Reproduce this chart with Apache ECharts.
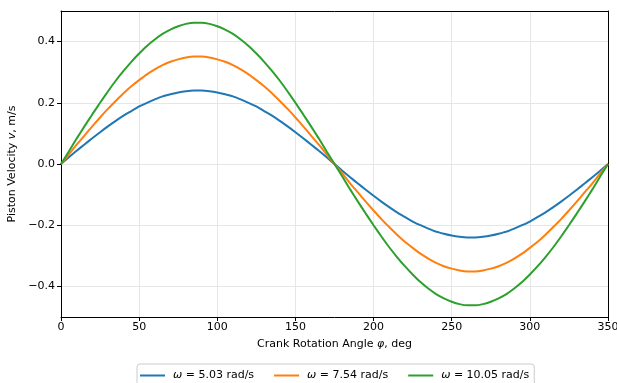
<!DOCTYPE html>
<html>
<head>
<meta charset="utf-8">
<script src="https://cdn.jsdelivr.net/npm/echarts@6/dist/echarts.min.js"></script>
<style>html,body{margin:0;padding:0;background:#fff}#c{width:617px;height:383px}</style>
</head>
<body>
<div id="c"></div>
<script>
const angles = [0,5,10,15,20,25,30,35,40,45,50,55,60,65,70,75,80,85,90,95,100,105,110,115,120,125,130,135,140,145,150,155,160,165,170,175,
  180,185,190,195,200,205,210,215,220,225,230,235,240,245,250,255,260,265,270,275,280,285,290,295,300,305,310,315,320,325,330,335,340,345,350];
const seriesNames = ['5.03', '7.54', '10.05'];
const v503 = [0,0.022,0.043,0.064,0.084,0.104,0.123,0.141,0.158,0.173,0.188,0.200,0.211,0.221,0.228,0.234,0.238,0.240,
  0.240,0.238,0.234,0.228,0.221,0.211,0.200,0.188,0.173,0.158,0.141,0.123,0.104,0.084,0.064,0.043,0.022,0,
  -0.022,-0.043,-0.064,-0.084,-0.104,-0.123,-0.141,-0.158,-0.173,-0.188,-0.200,-0.211,-0.221,-0.228,-0.234,-0.238,-0.240,
  -0.240,-0.238,-0.234,-0.228,-0.221,-0.211,-0.200,-0.188,-0.173,-0.158,-0.141,-0.123,-0.104,-0.084,-0.064,-0.043,-0.022,0];
const v754 = [0,0.031,0.063,0.093,0.123,0.152,0.180,0.206,0.231,0.254,0.274,0.293,0.309,0.323,0.334,0.342,0.348,0.351,
  0.351,0.348,0.342,0.334,0.323,0.309,0.293,0.274,0.254,0.231,0.206,0.180,0.152,0.123,0.093,0.063,0.031,0,
  -0.031,-0.063,-0.093,-0.123,-0.152,-0.180,-0.206,-0.231,-0.254,-0.274,-0.293,-0.309,-0.323,-0.334,-0.342,-0.348,-0.351,
  -0.351,-0.348,-0.342,-0.334,-0.323,-0.309,-0.293,-0.274,-0.254,-0.231,-0.206,-0.180,-0.152,-0.123,-0.093,-0.063,-0.031,0];
const v1005 = [0,0.041,0.083,0.123,0.162,0.200,0.237,0.272,0.304,0.334,0.361,0.386,0.407,0.425,0.439,0.450,0.458,0.462,
  0.462,0.458,0.450,0.439,0.425,0.407,0.386,0.361,0.334,0.304,0.272,0.237,0.200,0.162,0.123,0.083,0.041,0,
  -0.041,-0.083,-0.123,-0.162,-0.200,-0.237,-0.272,-0.304,-0.334,-0.361,-0.386,-0.407,-0.425,-0.439,-0.450,-0.458,-0.462,
  -0.462,-0.458,-0.450,-0.439,-0.425,-0.407,-0.386,-0.361,-0.334,-0.304,-0.272,-0.237,-0.200,-0.162,-0.123,-0.083,-0.041,0];
const yTicks = [-0.4,-0.2,0,0.2,0.4];
const colors = ['#1f77b4','#ff7f0e','#2ca02c'];
const values = [v503, v754, v1005];

const font = 'DejaVu Sans';
const chart = echarts.init(document.getElementById('c'), null, {renderer:'canvas'});
const series = values.map((vals, i) => ({
  name: seriesNames[i],
  type: 'line',
  data: angles.map((a, j) => [a, vals[j]]),
  symbol: 'none',
  smooth: 0.2,
  lineStyle: {color: colors[i], width: 2},
  itemStyle: {color: colors[i]},
  z: 3 + i
}));
const frameAxis = {
  type: 'value', axisLine: {show: true, onZero: false, lineStyle: {color: '#000', width: 1}},
  axisTick: {show: false}, axisLabel: {show: false}, splitLine: {show: false}
};
const rich = {i: {fontFamily: font, fontStyle: 'italic', fontSize: 11, color: '#000'}, s: {width: 3}};
chart.setOption({
  animation: false,
  backgroundColor: '#fff',
  grid: {left: 61, right: 9, top: 11, bottom: 66, outerBoundsMode: 'none', containLabel: false},
  legend: {
    left: 137, top: 364,
    data: seriesNames,
    icon: 'rect',
    itemWidth: 25, itemHeight: 2, itemGap: 20,
    borderColor: '#cccccc', borderWidth: 1, borderRadius: 3,
    padding: [6, 5, 6, 3],
    formatter: n => '{s|}{i|ω} = ' + n + ' rad/s',
    textStyle: {fontFamily: font, fontSize: 11, color: '#000', rich: rich}
  },
  xAxis: [{
    type: 'value', min: 0, max: 350, interval: 50,
    name: 'Crank Rotation Angle {i|φ}, deg', nameLocation: 'middle', nameGap: 22,
    nameTextStyle: {fontFamily: font, fontSize: 11, color: '#000', rich: rich},
    axisLine: {show: true, onZero: false, lineStyle: {color: '#000', width: 1}},
    axisTick: {show: true, length: 4, lineStyle: {color: '#000'}},
    axisLabel: {fontFamily: font, fontSize: 11, color: '#000', margin: 5},
    splitLine: {show: true, lineStyle: {color: '#e6e6e6', width: 1}}
  }, Object.assign({position: 'top', min: 0, max: 350}, frameAxis)],
  yAxis: [{
    type: 'value', min: -0.5, max: 0.5,
    name: 'Piston Velocity {i|v}, m/s', nameLocation: 'middle', nameGap: 40, nameRotate: 90,
    nameTextStyle: {fontFamily: font, fontSize: 11, color: '#000', rich: rich},
    axisLine: {show: true, onZero: false, lineStyle: {color: '#000', width: 1}},
    axisTick: {show: true, length: 4, lineStyle: {color: '#000'}, customValues: yTicks},
    axisLabel: {fontFamily: font, fontSize: 11, color: '#000', margin: 6, customValues: yTicks,
      formatter: v => (v < 0 ? '\u2212' : '') + Math.abs(v).toFixed(1)},
    splitLine: {show: true, lineStyle: {color: '#e6e6e6', width: 1}}
  }, Object.assign({position: 'right', min: -0.5, max: 0.5}, frameAxis)],
  series: series
});
</script>
</body>
</html>
